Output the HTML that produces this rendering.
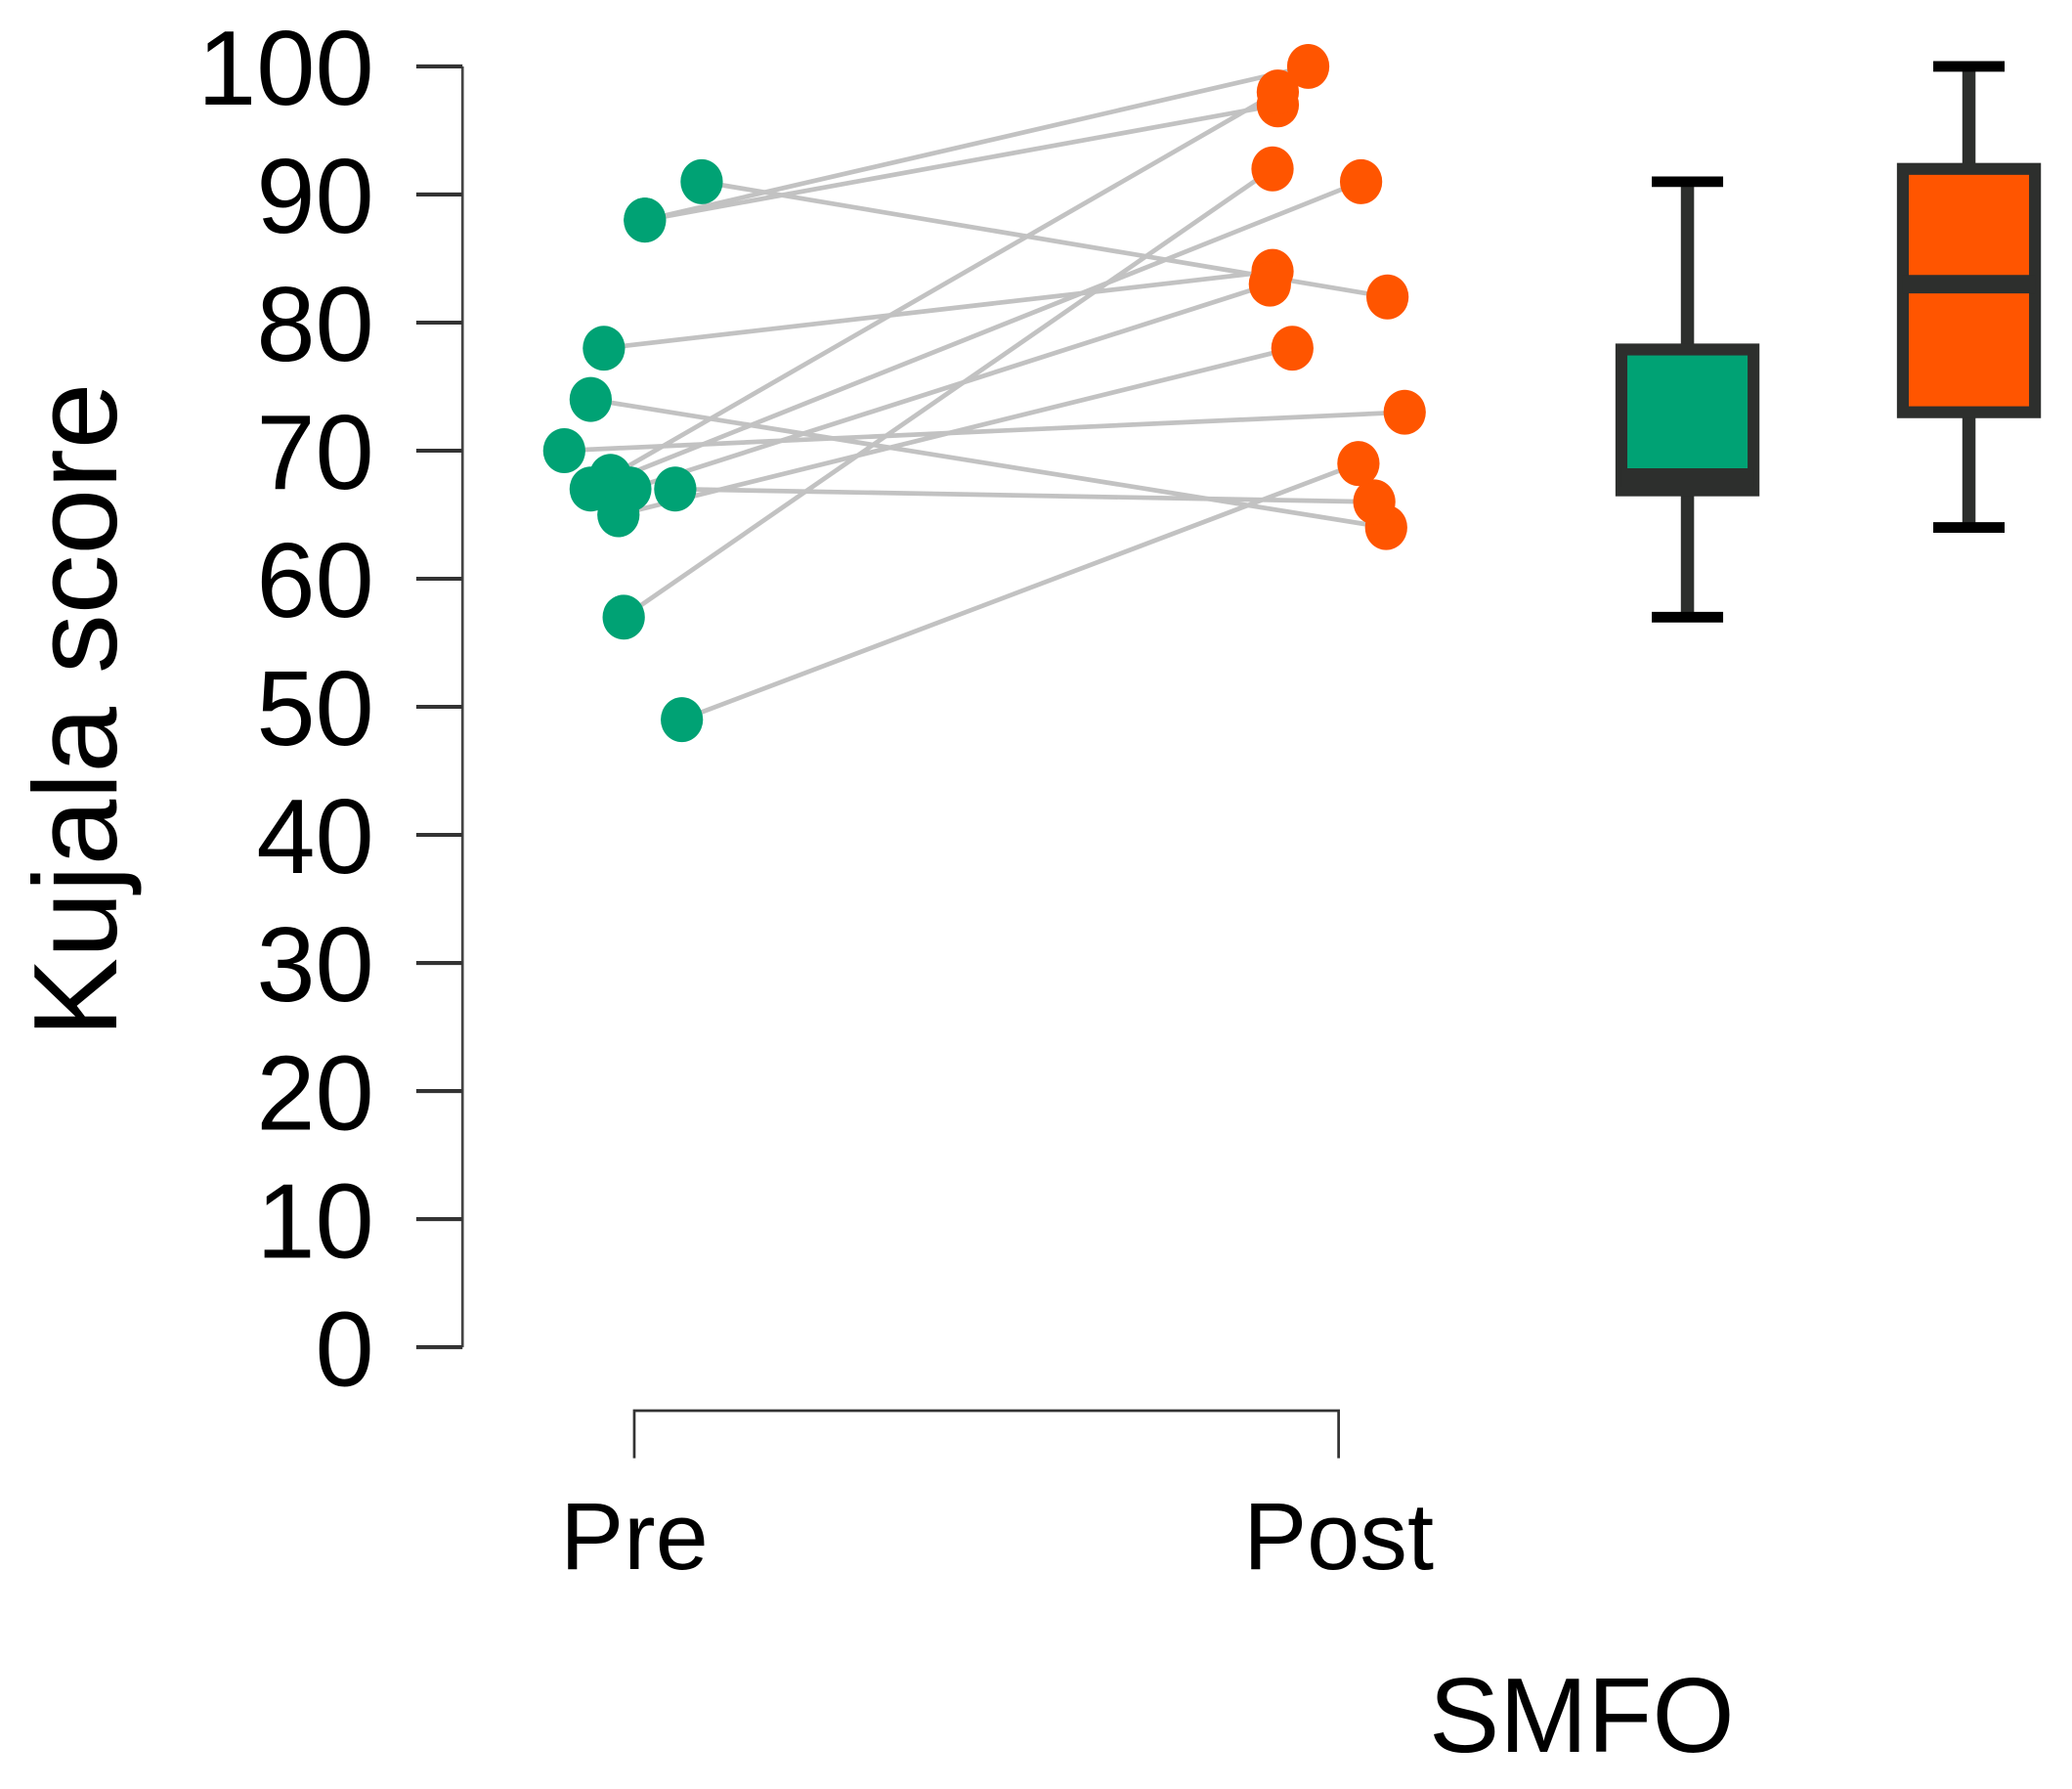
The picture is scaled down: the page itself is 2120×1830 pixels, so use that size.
<!DOCTYPE html>
<html><head><meta charset="utf-8">
<style>
html,body{margin:0;padding:0;background:#fff;}
svg{display:block;}
text{font-family:"Liberation Sans",sans-serif;fill:#000;}
</style></head>
<body>
<svg id="chart" width="2120" height="1830" viewBox="0 0 1568 1353" xmlns="http://www.w3.org/2000/svg">
  <g id="axes"></g>
  <g id="lines"></g>
  <g id="points"></g>
  <g id="boxes"></g>
  <text x="0" y="0" font-size="90" text-anchor="middle" transform="translate(88,537) rotate(-90)">Kujala score</text>
  <text x="480" y="1187" font-size="72" text-anchor="middle">Pre</text>
  <text x="1013" y="1187" font-size="72" text-anchor="middle">Post</text>
  <text x="1197" y="1325" font-size="80" text-anchor="middle">SMFO</text>
</svg>
<script>
const yTicks = [0,10,20,30,40,50,60,70,80,90,100];
const preValues  = [88,88,91,78,74,70,67,57,49,68,67,67,65];
const postValues = [100,97,82,84,64,73,66,92,69,98,91,83,78];
const preJitter  = [8,8,51,-23,-33,-53,31,-8,36,-18,-33,-3,-12];
const postJitter = [-23,-46,37,-50,36,50,27,-50,15,-46,17,-52,-35];
const preBox  = {min:57, q1:66.9, median:67.9, q3:77.9, max:91};
const postBox = {min:64, q1:73, median:83, q3:92, max:100};

const NS = "http://www.w3.org/2000/svg";
const xPre = 480, xPost = 1013;
function y(v){ return 1019 - v*9.69; }
function mk(tag, attrs, parent){
  const el = document.createElementNS(NS, tag);
  for (const k in attrs) el.setAttribute(k, attrs[k]);
  parent.appendChild(el);
  return el;
}
const axes = document.getElementById('axes');
let el = mk('line', {x1:350,y1:y(100),x2:350,y2:y(0),stroke:'#444','stroke-width':2}, axes);


yTicks.forEach(t => {
  let tk = mk('line', {x1:315,y1:y(t),x2:350,y2:y(t),stroke:'#333','stroke-width':3}, axes);
  
  
  let lb = mk('text', {x:283,y:y(t)+29,'font-size':80,'text-anchor':'end'}, axes);
  lb.textContent = t;
  
  
});
let br = mk('path', {d:`M${xPre},1103 V1067 H${xPost} V1103`,fill:'none',stroke:'#333','stroke-width':2}, axes);



const lines = document.getElementById('lines');
const points = document.getElementById('points');
preValues.forEach((v,i) => {
  let l = mk('line', {x1:xPre+preJitter[i],y1:y(v),x2:xPost+postJitter[i],y2:y(postValues[i]),stroke:'#c2c2c2','stroke-width':3.5}, lines);
  
  
});
preValues.forEach((v,i) => {
  let c = mk('ellipse', {cx:xPre+preJitter[i],cy:y(v),rx:16,ry:17,fill:'#00A274'}, points);
  
  
});
postValues.forEach((v,i) => {
  let c = mk('ellipse', {cx:xPost+postJitter[i],cy:y(v),rx:16,ry:17,fill:'#FF5500'}, points);
  
  
});

const boxes = document.getElementById('boxes');
function drawBox(b, cx, color, name){
  const g = mk('g', {}, boxes);
  
  
  mk('line', {x1:cx,y1:y(b.max),x2:cx,y2:y(b.min),stroke:'#2d2f2d','stroke-width':10}, g);
  mk('line', {x1:cx-27,y1:y(b.max),x2:cx+27,y2:y(b.max),stroke:'#000','stroke-width':8}, g);
  mk('line', {x1:cx-27,y1:y(b.min),x2:cx+27,y2:y(b.min),stroke:'#000','stroke-width':8}, g);
  mk('rect', {x:cx-50,y:y(b.q3),width:100,height:y(b.q1)-y(b.q3),fill:color,stroke:'#2d2f2d','stroke-width':9}, g);
  mk('line', {x1:cx-50,y1:y(b.median),x2:cx+50,y2:y(b.median),stroke:'#2d2f2d','stroke-width':14}, g);
}
drawBox(preBox, 1277, '#00A274', 'pre-boxplot');
drawBox(postBox, 1490, '#FF5500', 'post-boxplot');
</script>
</body></html>
